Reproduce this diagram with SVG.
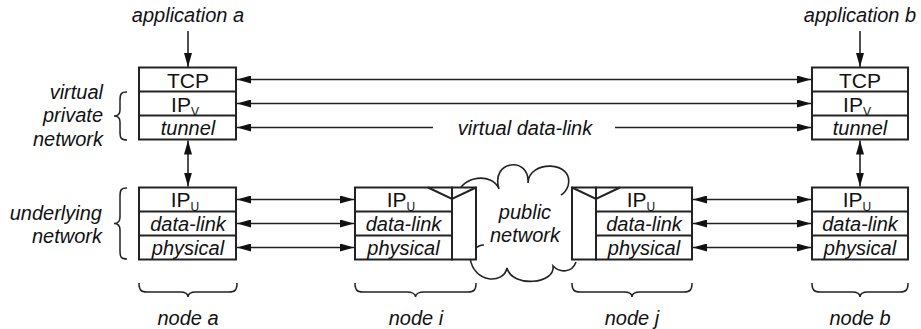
<svg xmlns="http://www.w3.org/2000/svg" width="921" height="329" viewBox="0 0 921 329">
  <style>
    text { font-family: "Liberation Sans", Arial, sans-serif; fill: #111; }
    tspan { fill: #111; }
    .it { font-style: italic; font-size: 20px; }
    .cell { font-size: 21px; text-anchor: middle; }
    .celli { font-size: 20px; font-style: italic; text-anchor: middle; }
    .sub { font-size: 12px; }
    .mid { text-anchor: middle; }
    .end { text-anchor: end; }
    .frame { fill: #fff; stroke: #222; stroke-width: 2; }
    .rule { stroke: #222; stroke-width: 2; fill: none; }
    .link { stroke: #222; stroke-width: 1.6; fill: none; }
    .brace { stroke: #222; stroke-width: 1.5; fill: none; }
    .cloud { stroke: #222; stroke-width: 1.6; fill: none; }
  </style>
  <defs>
    <marker id="head" viewBox="0 0 14 8" refX="14" refY="4" markerWidth="14" markerHeight="8" markerUnits="userSpaceOnUse" orient="auto-start-reverse">
      <path d="M0,0 L14,4 L0,8 Z" fill="#111"/>
    </marker>
  </defs>

  <rect width="921" height="329" fill="#fff"/>

  <!-- side labels and braces -->
  <g id="label-vpn">
    <text class="it end" x="103" y="99">virtual</text>
    <text class="it end" x="103" y="122">private</text>
    <text class="it end" x="103" y="146">network</text>
    <path class="brace" d="M127,92 C121,92 120,94 120,100 L120,110 C120,114 118,116 114,116 C118,116 120,118 120,122 L120,132 C120,138 121,140 127,140"/>
  </g>
  <g id="label-underlying">
    <text class="it end" x="102" y="220">underlying</text>
    <text class="it end" x="102" y="243">network</text>
    <path class="brace" d="M127,188 C121,188 120,190 120,196 L120,217 C120,221 118,223.5 114,223.5 C118,223.5 120,226 120,230 L120,251 C120,257 121,259 127,259"/>
  </g>

  <!-- public network cloud (drawn beneath the routers) -->
  <g id="cloud">
    <path class="cloud" d="M458,194 C462,176 492,172 499,189 C490,160 530,156 528,183 C528,160 575,160 568,186 Q566,192 561,195"/>
    <path class="cloud" d="M576,262 C572,273 560,273 553,266 C556,284 512,288 507,268 C504,284 474,284 470,258"/>
    <path class="cloud" d="M474,250 Q478,245 484,245"/>
    <text class="it mid" x="525" y="219">public</text>
    <text class="it mid" x="525" y="242">network</text>
  </g>

  <!-- connectors -->
  <g id="connectors">
    <line class="link" x1="188" y1="31" x2="188" y2="67" marker-end="url(#head)"/>
    <line class="link" x1="860" y1="31" x2="860" y2="67" marker-end="url(#head)"/>
    <line class="link" x1="237" y1="79.5" x2="811" y2="79.5" marker-start="url(#head)" marker-end="url(#head)"/>
    <line class="link" x1="237" y1="103.5" x2="811" y2="103.5" marker-start="url(#head)" marker-end="url(#head)"/>
    <line class="link" x1="237" y1="127.5" x2="433" y2="127.5" marker-start="url(#head)"/>
    <line class="link" x1="615" y1="127.5" x2="811" y2="127.5" marker-end="url(#head)"/>
    <text class="it mid" x="525" y="135">virtual data-link</text>
    <line class="link" x1="188" y1="140.5" x2="188" y2="186.5" marker-start="url(#head)" marker-end="url(#head)"/>
    <line class="link" x1="860" y1="140.5" x2="860" y2="186.5" marker-start="url(#head)" marker-end="url(#head)"/>
    <line class="link" x1="237" y1="199.5" x2="354" y2="199.5" marker-start="url(#head)" marker-end="url(#head)"/>
    <line class="link" x1="237" y1="223.5" x2="354" y2="223.5" marker-start="url(#head)" marker-end="url(#head)"/>
    <line class="link" x1="237" y1="247.5" x2="354" y2="247.5" marker-start="url(#head)" marker-end="url(#head)"/>
    <line class="link" x1="693" y1="199.5" x2="811" y2="199.5" marker-start="url(#head)" marker-end="url(#head)"/>
    <line class="link" x1="693" y1="223.5" x2="811" y2="223.5" marker-start="url(#head)" marker-end="url(#head)"/>
    <line class="link" x1="693" y1="247.5" x2="811" y2="247.5" marker-start="url(#head)" marker-end="url(#head)"/>
  </g>

  <!-- node a -->
  <g id="node-a">
    <text class="it mid" x="188" y="22">application a</text>
    <rect class="frame" x="139" y="67.5" width="97" height="72"/>
    <path class="rule" d="M139,91.5 H236 M139,115.5 H236"/>
    <text class="cell" x="188" y="87.5">TCP</text>
    <text class="cell" x="185" y="111.5">IP<tspan class="sub" dy="4">V</tspan></text>
    <text class="celli" x="188" y="135">tunnel</text>
    <rect class="frame" x="139" y="187.5" width="97" height="72"/>
    <path class="rule" d="M139,211.5 H236 M139,235.5 H236"/>
    <text class="cell" x="185" y="207">IP<tspan class="sub" dy="4">U</tspan></text>
    <text class="celli" x="188" y="231">data-link</text>
    <text class="celli" x="188" y="255">physical</text>
    <path class="brace" d="M139,283 C139,290 141,292 147,292 L180,292 C185,292 188,294 188,297 C188,294 191,292 196,292 L229,292 C235,292 237,290 237,283"/>
    <text class="it mid" x="188" y="325">node a</text>
  </g>

  <!-- node i (router) -->
  <g id="node-i">
    <rect class="frame" x="355" y="187.5" width="97" height="72"/>
    <path class="rule" d="M355,211.5 H452 M355,235.5 H452"/>
    <rect class="frame" x="452" y="187.5" width="24" height="72"/>
    <path class="rule" d="M428,187.5 L452,199 L476,187.5"/>
    <text class="cell" x="401" y="207">IP<tspan class="sub" dy="4">U</tspan></text>
    <text class="celli" x="403.5" y="231">data-link</text>
    <text class="celli" x="403.5" y="255">physical</text>
    <path class="brace" d="M355,283 C355,290 357,292 363,292 L407,292 C412,292 415.5,294 415.5,297 C415.5,294 419,292 424,292 L468,292 C474,292 476,290 476,283"/>
    <text class="it mid" x="416" y="325">node i</text>
  </g>

  <!-- node j (router) -->
  <g id="node-j">
    <rect class="frame" x="596" y="187.5" width="96" height="72"/>
    <path class="rule" d="M596,211.5 H692 M596,235.5 H692"/>
    <rect class="frame" x="572" y="187.5" width="24" height="72"/>
    <path class="rule" d="M572,187.5 L596,199 L620,187.5"/>
    <text class="cell" x="641" y="207">IP<tspan class="sub" dy="4">U</tspan></text>
    <text class="celli" x="644" y="231">data-link</text>
    <text class="celli" x="644" y="255">physical</text>
    <path class="brace" d="M572,283 C572,290 574,292 580,292 L624,292 C629,292 632,294 632,297 C632,294 635,292 640,292 L684,292 C690,292 692,290 692,283"/>
    <text class="it mid" x="632" y="325">node j</text>
  </g>

  <!-- node b -->
  <g id="node-b">
    <text class="it mid" x="860" y="22">application b</text>
    <rect class="frame" x="812" y="67.5" width="96" height="72"/>
    <path class="rule" d="M812,91.5 H908 M812,115.5 H908"/>
    <text class="cell" x="860" y="87.5">TCP</text>
    <text class="cell" x="857" y="111.5">IP<tspan class="sub" dy="4">V</tspan></text>
    <text class="celli" x="860" y="135">tunnel</text>
    <rect class="frame" x="812" y="187.5" width="96" height="72"/>
    <path class="rule" d="M812,211.5 H908 M812,235.5 H908"/>
    <text class="cell" x="857" y="207">IP<tspan class="sub" dy="4">U</tspan></text>
    <text class="celli" x="860" y="231">data-link</text>
    <text class="celli" x="860" y="255">physical</text>
    <path class="brace" d="M812,283 C812,290 814,292 820,292 L852,292 C857,292 860,294 860,297 C860,294 863,292 868,292 L900,292 C906,292 908,290 908,283"/>
    <text class="it mid" x="860" y="325">node b</text>
  </g>
</svg>
